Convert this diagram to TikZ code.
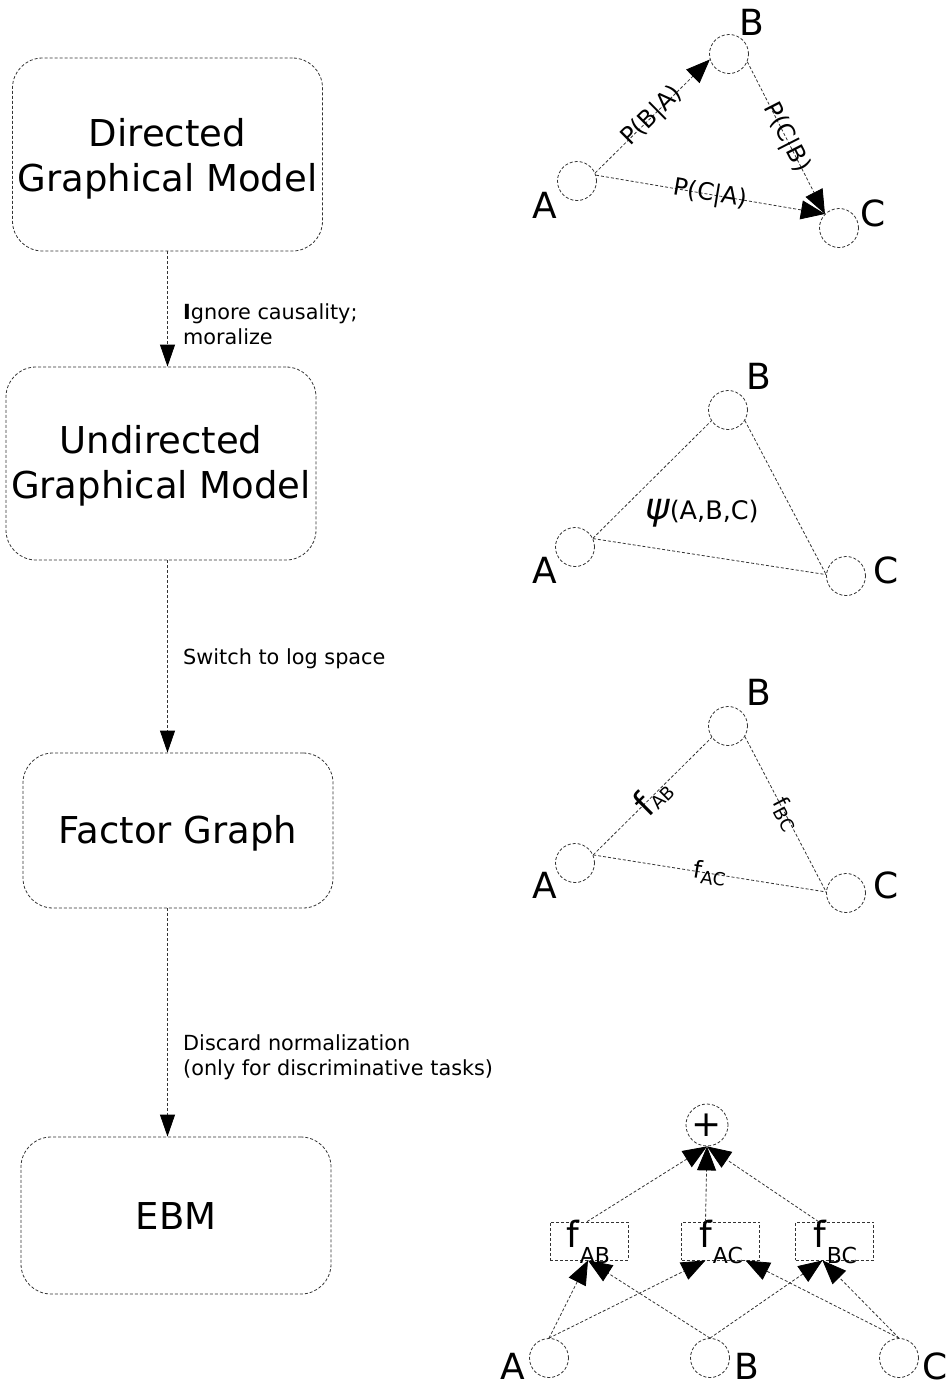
\documentclass[tikz,border=0pt]{standalone}
\usepackage{fontspec}
\setmainfont{DejaVu Sans}
\usetikzlibrary{arrows.meta,calc}
\begin{document}
\begin{tikzpicture}[x=1pt,y=-1pt,
  ln/.style={draw=black!80, line width=0.8pt, dash pattern=on 3pt off 2pt},
  box/.style={ln, rounded corners=30pt, minimum width=310pt, inner sep=0pt},
  btxt/.style={inner sep=0pt, align=center, font=\fontsize{37}{45}\selectfont},
  gn/.style={ln, circle, minimum size=39pt, inner sep=0pt},
  lbl/.style={font=\fontsize{36}{36}\selectfont, inner sep=0pt},
  elbl/.style={font=\fontsize{20.8}{25}\selectfont, inner sep=0pt, align=left, anchor=west},
  plbl/.style={font=\fontsize{24}{24}\selectfont, inner sep=0pt, sloped},
  arr/.style={ln, -{Triangle[length=22pt,width=15pt,color=black]}},
  garr/.style={ln, -{Triangle[length=24pt,width=19pt,color=black]}},
  fbox/.style={ln, rectangle, minimum width=78pt, minimum height=38pt, inner sep=0pt},
]
\useasboundingbox (0,0) rectangle (947,1384);

% ---------- left column ----------
\node[box, minimum height=193pt] (dgm) at (167.5,154.5) {};
\node[box, minimum height=193pt] (ugm) at (161,463.5) {};
\node[box, minimum height=155pt] (fg) at (178,830.5) {};
\node[box, minimum height=157pt] (ebm) at (176,1215.5) {};
\node[btxt] (tdgm) at (167.5,158.5) {Directed\\Graphical Model};
\node[btxt] (tugm) at (161,466) {Undirected\\Graphical Model};
\node[btxt] (tfg) at (178,833.5) {Factor Graph};
\node[btxt] (tebm) at (176,1216) {EBM};

\draw[arr] (dgm.south) -- (dgm.south |- ugm.north);
\draw[arr] (ugm.south -| dgm.south) -- (fg.north -| dgm.south);
\draw[arr] (fg.south -| dgm.south) -- (ebm.north -| dgm.south);

\node[elbl] (l1) at (183,324) {\textbf{I}gnore causality;\\moralize};
\node[elbl] (l2) at (183,659) {Switch to log space};
\node[elbl] (l3) at (183,1057) {Discard normalization\\(only for discriminative tasks)};

% ---------- graph 1: directed ----------
\node[gn] (a1) at (577,181) {};
\node[gn] (b1) at (729,54) {};
\node[gn] (c1) at (839,228) {};
\node[lbl] (la1) at (545,205) {A};
\node[lbl] (lb1) at (752,22) {B};
\node[lbl] (lc1) at (873,213) {C};
\draw[garr] (a1.24) -- node[plbl] (pba) {P(B|A)} (b1.196);
\draw[garr] (b1.-23) -- node[plbl] (pcb) {P(C|B)} (c1.135);
\draw[garr] (a1.17) -- node[plbl] (pca) {P(C|A)} (c1.135);

% ---------- graph 2: undirected ----------
\node[gn] (a2) at (575,547) {};
\node[gn] (b2) at (728,410) {};
\node[gn] (c2) at (846,576) {};
\node[lbl] (la2) at (545,570) {A};
\node[lbl] (lb2) at (759,376) {B};
\node[lbl] (lc2) at (886,570) {C};
\draw[ln] (a2.26) -- (b2.213);
\draw[ln] (a2.25) -- (c2.176);
\draw[ln] (b2.-32) -- (c2.176);
\node[inner sep=0pt] (psi) at (702,513) {{\fontsize{37}{37}\selectfont\itshape ψ}{\fontsize{25.5}{25.5}\selectfont (A,B,C)}};

% ---------- graph 3: factor graph ----------
\node[gn] (a3) at (575,863) {};
\node[gn] (b3) at (728,726) {};
\node[gn] (c3) at (846,893) {};
\node[lbl] (la3) at (545,885) {A};
\node[lbl] (lb3) at (759,692) {B};
\node[lbl] (lc3) at (886,885) {C};
\draw[ln] (a3.24) -- node[sloped, inner sep=0pt] (fab3) {\fontsize{36}{36}\selectfont f\raisebox{-2pt}{\fontsize{18}{18}\selectfont AB}} (b3.215);
\draw[ln] (b3.-32) -- node[sloped, inner sep=0pt] (fbc3) {\fontsize{22}{22}\selectfont f\raisebox{-4pt}{\fontsize{18}{18}\selectfont BC}} (c3.177);
\draw[ln] (a3.24) -- node[sloped, inner sep=0pt] (fac3) {\fontsize{24}{24}\selectfont f\raisebox{-4pt}{\fontsize{18}{18}\selectfont AC}} (c3.177);

% ---------- graph 4: EBM ----------
\node[ln, circle, minimum size=42pt, inner sep=0pt, font=\fontsize{36}{36}\selectfont] (plus) at (707,1125) {+};
\node[fbox] (fab) at (589,1241) {};
\node[fbox] (fac) at (720.5,1241) {};
\node[fbox] (fbc) at (834.5,1241) {};
\node[anchor=base, inner sep=0pt, font=\fontsize{36}{36}\selectfont] (tfab) at (573,1247) {f};
\node[anchor=base, inner sep=0pt, font=\fontsize{22}{22}\selectfont] (sfab) at (595,1263) {AB};
\node[anchor=base, inner sep=0pt, font=\fontsize{36}{36}\selectfont] (tfac) at (706,1247) {f};
\node[anchor=base, inner sep=0pt, font=\fontsize{22}{22}\selectfont] (sfac) at (728,1263) {AC};
\node[anchor=base, inner sep=0pt, font=\fontsize{36}{36}\selectfont] (tfbc) at (820,1247) {f};
\node[anchor=base, inner sep=0pt, font=\fontsize{22}{22}\selectfont] (sfbc) at (842,1263) {BC};

\node[gn] (a4) at (549,1358) {};
\node[gn] (b4) at (710,1358) {};
\node[gn] (c4) at (899,1358) {};
\node[lbl] (la4) at (513,1366) {A};
\node[lbl] (lb4) at (747,1366) {B};
\node[lbl] (lc4) at (935,1366) {C};

\draw[garr] ($(fab.north)+(-2,0)$) -- (plus.south);
\draw[garr] ($(fac.north)+(-15,0)$) -- (plus.south);
\draw[garr] ($(fbc.north)+(-16,0)$) -- (plus.south);

\draw[garr] (a4.north) -- ($(fab.south)+(-1,0)$);
\draw[garr] (b4.north) -- ($(fab.south)+(-1,0)$);
\draw[garr] (a4.north) -- ($(fac.south)+(-15,0)$);
\draw[garr] (c4.north) -- ($(fac.south)+(25,0)$);
\draw[garr] (b4.north) -- ($(fbc.south)+(-12,0)$);
\draw[garr] (c4.north) -- ($(fbc.south)+(-12,0)$);
\end{tikzpicture}
\end{document}
